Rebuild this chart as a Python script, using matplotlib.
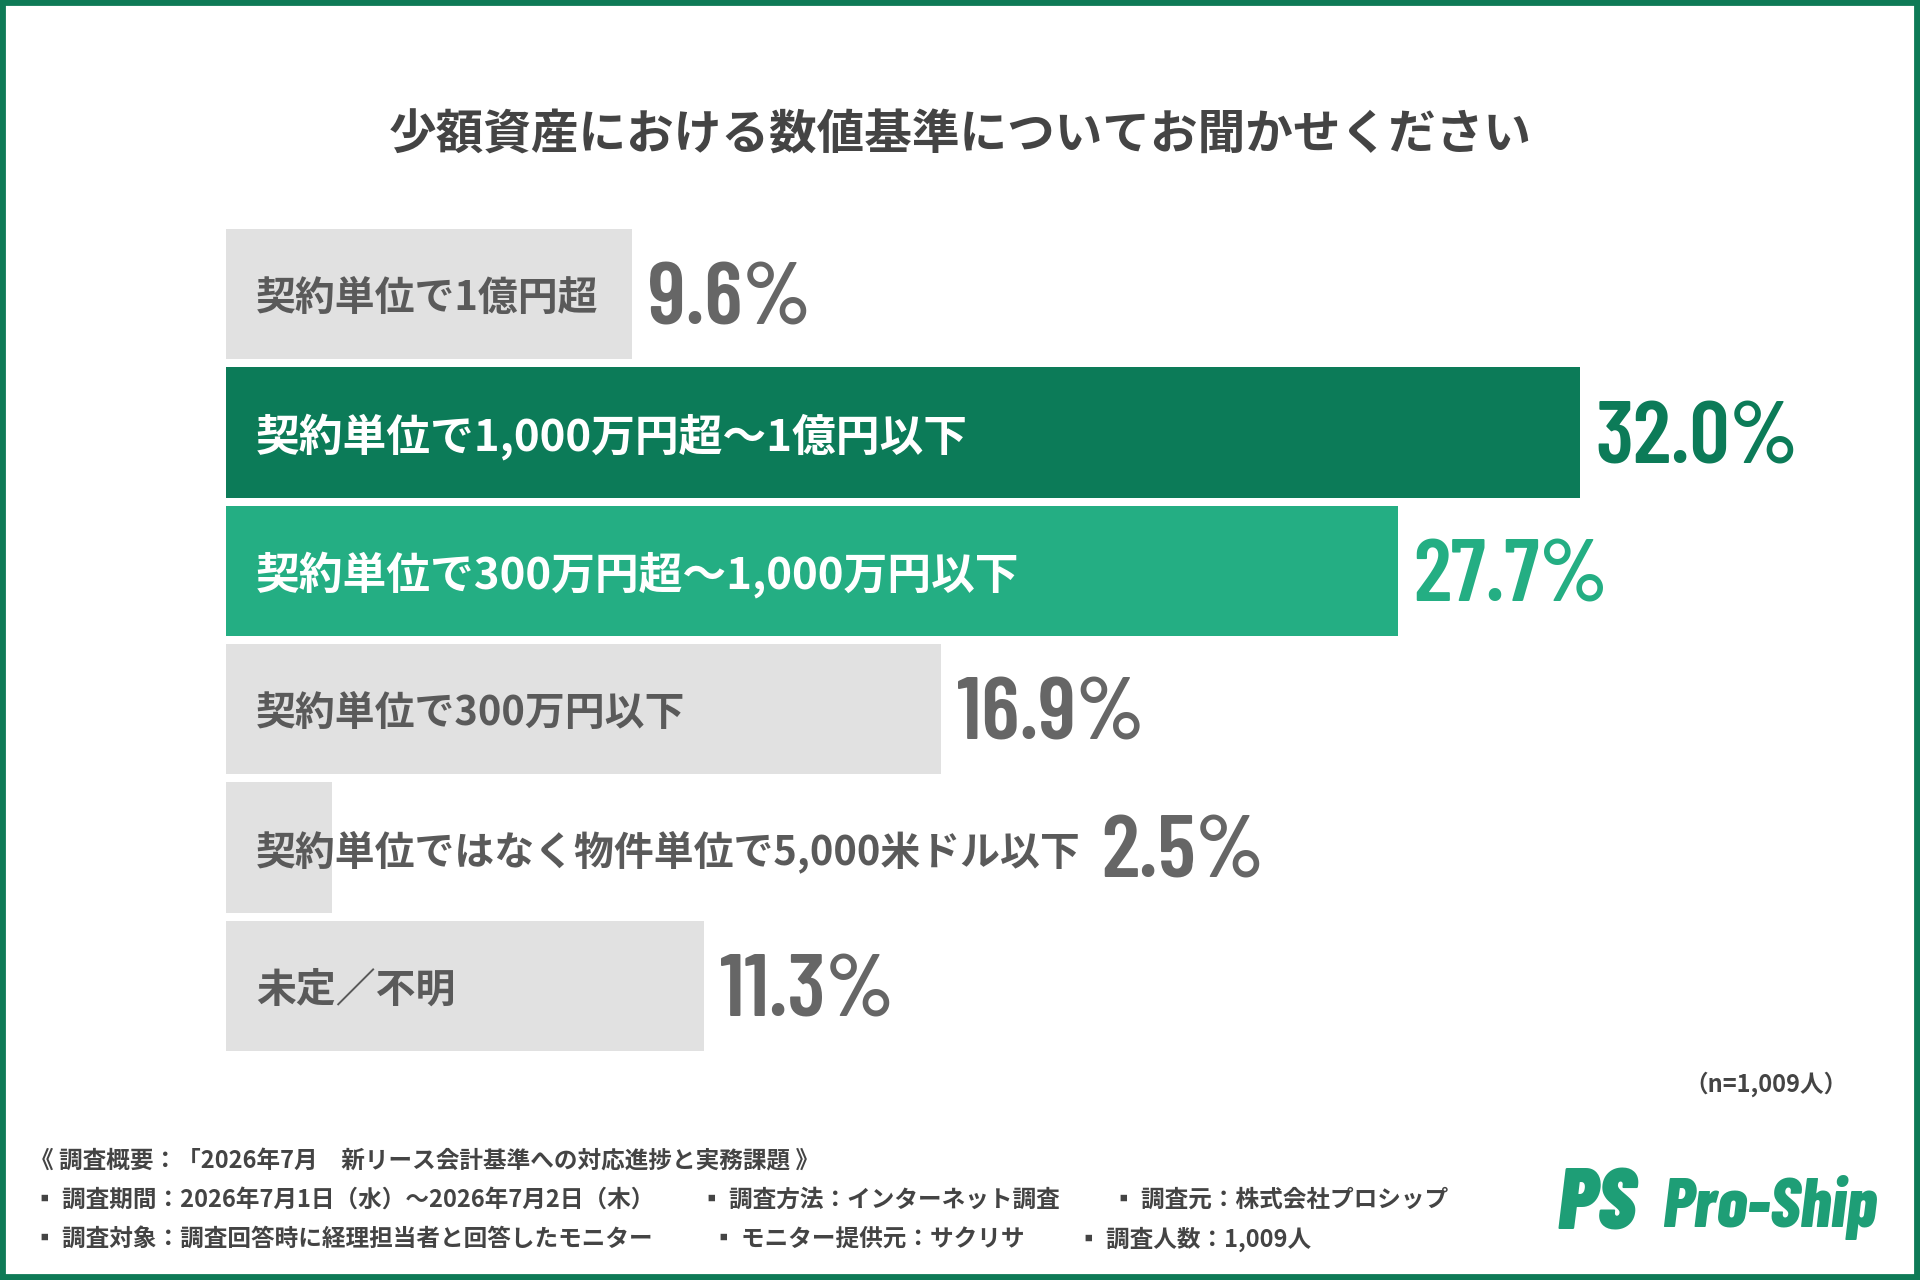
import matplotlib
matplotlib.use("Agg")
import matplotlib.pyplot as plt
from matplotlib.patches import Rectangle

plt.rcParams["font.family"] = ["Noto Sans CJK JP", "DejaVu Sans"]

# ---- data ----
TITLE = "少額資産における数値基準についてお聞かせください"
categories = [
    "契約単位で1億円超",
    "契約単位で1,000万円超〜1億円以下",
    "契約単位で300万円超〜1,000万円以下",
    "契約単位で300万円以下",
    "契約単位ではなく物件単位で5,000米ドル以下",
    "未定／不明",
]
values = [9.6, 32.0, 27.7, 16.9, 2.5, 11.3]
sample_note = "（n=1,009人）"
footer_title = "《 調査概要：「2026年7月　新リース会計基準への対応進捗と実務課題 》"
footer_row1 = ["▪ 調査期間：2026年7月1日（水）〜2026年7月2日（木）",
               "▪ 調査方法：インターネット調査",
               "▪ 調査元：株式会社プロシップ"]
footer_row2 = ["▪ 調査対象：調査回答時に経理担当者と回答したモニター",
               "▪ モニター提供元：サクリサ",
               "▪ 調査人数：1,009人"]

# ---- styles ----
GREEN_DARK = "#0c7b58"
GREEN_LIGHT = "#24ae83"
GRAY_BAR = "#e1e1e1"
GRAY_TEXT = "#5a5a5a"
GRAY_VALUE = "#666666"
DARK_TEXT = "#444444"
bar_colors = [GRAY_BAR, GREEN_DARK, GREEN_LIGHT, GRAY_BAR, GRAY_BAR, GRAY_BAR]
label_colors = [GRAY_TEXT, "white", "white", GRAY_TEXT, GRAY_TEXT, GRAY_TEXT]
label_sizes = [28.7, 31.5, 31.5, 28.7, 28.7, 28.7]
value_colors = [GRAY_VALUE, GREEN_DARK, GREEN_LIGHT, GRAY_VALUE, GRAY_VALUE, GRAY_VALUE]
NUM_FONT = ["Barlow Condensed", "DejaVu Sans"]

W, H = 1920, 1280


def fx(px):
    return px / W


def fy(py):
    return 1 - py / H


fig = plt.figure(figsize=(19.2, 12.8), dpi=100)
fig.patch.set_facecolor("white")

ax = fig.add_axes([fx(226), fy(1055), 1692 / W, 830 / H])
ax.set_xlim(0, 40)
ax.set_ylim(len(values) - 0.5, -0.5)
ax.axis("off")

ypos = list(range(len(values)))
ax.barh(ypos, values, height=0.94, color=bar_colors, linewidth=0)

fig.canvas.draw()
renderer = fig.canvas.get_renderer()

for i, (cat, v) in enumerate(zip(categories, values)):
    lab = ax.annotate(cat, xy=(0, i), xytext=(30, -4), textcoords="offset pixels",
                      ha="left", va="center", fontsize=label_sizes[i], fontweight="bold",
                      color=label_colors[i])
    text_end = lab.get_window_extent(renderer).x1 + 20
    bar_end = ax.transData.transform((v, i))[0] + 16
    x_start = ax.transData.inverted().transform((max(text_end, bar_end), 0))[0]
    ax.annotate(f"{v:.1f}%", xy=(x_start, i), xytext=(0, -8), textcoords="offset pixels",
                ha="left", va="center", fontsize=64, fontweight=600,
                color=value_colors[i], family=NUM_FONT)

fig.text(0.5, fy(136), TITLE, ha="center", va="center", fontsize=34.3,
         fontweight="bold", color=DARK_TEXT)

fig.text(fx(1848), fy(1084), sample_note, ha="right", va="center", fontsize=17,
         fontweight="bold", color=DARK_TEXT)

# footer
foot_kw = dict(ha="left", va="center", fontsize=17, fontweight="bold", color=DARK_TEXT)
fig.text(fx(30), fy(1161), footer_title, **foot_kw)
for x, s in zip([33, 700, 1112], footer_row1):
    fig.text(fx(x), fy(1200), s, **foot_kw)
for x, s in zip([33, 712, 1077], footer_row2):
    fig.text(fx(x), fy(1239), s, **foot_kw)

# logo
logo_kw = dict(ha="left", va="center", style="italic",
               color="#1e9e76", family=NUM_FONT)
fig.text(fx(1558), fy(1207), "PS", fontsize=62, fontweight=900, **logo_kw)
fig.text(fx(1662), fy(1207), "Pro-Ship", fontsize=50, fontweight=800, **logo_kw)

# frame
fig.add_artist(Rectangle((0, 0), 1, 1, transform=fig.transFigure, fill=False,
                         edgecolor="#0e7a56", linewidth=8.5))

fig.savefig("out.png", dpi=100, facecolor="white")
